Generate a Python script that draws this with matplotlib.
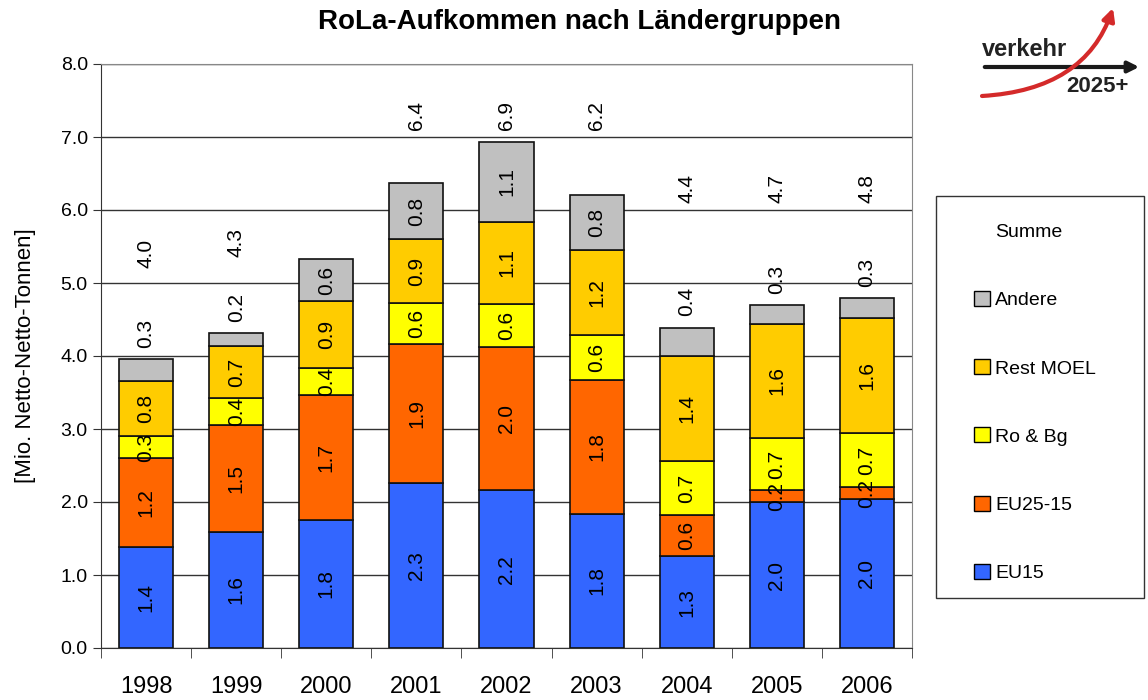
import matplotlib
matplotlib.use('Agg')
import matplotlib.pyplot as plt
import numpy as np
from matplotlib.patches import Patch, FancyArrowPatch, Rectangle
from matplotlib.path import Path
from matplotlib.lines import Line2D

years = ['1998', '1999', '2000', '2001', '2002', '2003', '2004', '2005', '2006']
eu15 = [1.38, 1.59, 1.76, 2.26, 2.16, 1.84, 1.26, 2.00, 2.04]
eu25_15 = [1.22, 1.47, 1.70, 1.90, 1.96, 1.83, 0.56, 0.16, 0.16]
ro_bg = [0.30, 0.36, 0.38, 0.57, 0.59, 0.62, 0.74, 0.72, 0.74]
rest_moel = [0.76, 0.72, 0.91, 0.87, 1.13, 1.16, 1.44, 1.56, 1.58]
andere = [0.30, 0.18, 0.58, 0.77, 1.09, 0.76, 0.39, 0.26, 0.27]

# hoehe der summen-beschriftung (wie im original von hand verschoben), 2000 ohne
summe_y = [5.41, 5.56, None, 7.30, 7.30, 7.30, 6.29, 6.29, 6.29]

names = ['EU15', 'EU25-15', 'Ro & Bg', 'Rest MOEL', 'Andere']
farben = ['#3366FF', '#FF6600', '#FFFF00', '#FFCC00', '#C0C0C0']

plt.rcParams['font.family'] = ['Liberation Sans', 'DejaVu Sans']

fig = plt.figure(figsize=(11.48, 7.0), dpi=100)
ax = fig.add_axes([101/1148, 52/700, 811/1148, 584/700])

x = np.arange(len(years))
serien = [eu15, eu25_15, ro_bg, rest_moel, andere]
unten = np.zeros(len(years))
for werte, name, farbe in zip(serien, names, farben):
    werte = np.array(werte)
    bars = ax.bar(x, werte, 0.6, bottom=unten, color=farbe, edgecolor='#111111',
                  linewidth=1.2, label=name, zorder=3)
    if name == 'Andere':
        innen = ['%.1f' % v if v >= 0.5 else '' for v in werte]
        ax.bar_label(bars, labels=innen, label_type='center', rotation=90,
                     fontsize=15, zorder=6)
        for i, v in enumerate(werte):
            if v < 0.5:
                ax.annotate('%.1f' % v, (x[i], unten[i] + v), xytext=(0, 8),
                            textcoords='offset points', ha='center', va='bottom',
                            rotation=90, fontsize=15, zorder=6)
    else:
        ax.bar_label(bars, labels=['%.1f' % v for v in werte], label_type='center',
                     rotation=90, fontsize=15, zorder=6)
    unten = unten + werte

for i, yy in enumerate(summe_y):
    if yy is None:
        continue
    ax.text(x[i], yy, '%.1f' % unten[i], rotation=90, ha='center', va='center',
            fontsize=15)

ax.set_xlim(-0.5, len(years) - 0.5)
ax.set_ylim(0, 8)
ax.set_yticks(np.arange(0, 8.1, 1.0))
ax.set_yticklabels(['%.1f' % v for v in np.arange(0, 8.1, 1.0)], fontsize=14)
ax.set_xticks(x)
ax.set_xticklabels(years, fontsize=17)
ax.tick_params(axis='x', length=0, pad=20)
ax.set_xticks(np.arange(-0.5, len(years), 1.0), minor=True)
ax.tick_params(axis='x', which='minor', length=7, direction='out', color='#333333')
ax.tick_params(axis='y', length=6, direction='out', color='#333333')
ax.grid(axis='y', color='#333333', linewidth=1.0, zorder=0)
for s in ['top', 'right']:
    ax.spines[s].set_color('#888888')
ax.spines['left'].set_color('#333333')
ax.spines['bottom'].set_color('#333333')
ax.set_ylabel('[Mio. Netto-Netto-Tonnen]', fontsize=16, labelpad=18)

fig.text(580/1148, 1 - 22/700, 'RoLa-Aufkommen nach Ländergruppen', ha='center',
         va='center', fontsize=20, fontweight='bold')

def fx(px):
    return px / 1148
def fy(py):
    return 1 - py / 700

# legende: rahmen extra, eintraege ohne rahmen
fig.patches.append(Rectangle((fx(936), fy(598)), fx(1144) - fx(936), fy(196) - fy(598),
                             transform=fig.transFigure, facecolor='white',
                             edgecolor='#333333', linewidth=1.0, zorder=0))
handles = [Line2D([], [], color='none')]
for name, farbe in zip(names[::-1], farben[::-1]):
    handles.append(Patch(facecolor=farbe, edgecolor='black', linewidth=1))
labels = ['Summe'] + names[::-1]
fig.legend(handles, labels, loc='upper left', bbox_to_anchor=(fx(974), fy(223)),
           frameon=False, fontsize=14, labelspacing=2.57, handlelength=0.8,
           handleheight=0.8, handletextpad=0.3, borderpad=0, borderaxespad=0)

# logo oben rechts
fig.patches.append(FancyArrowPatch((fx(982), fy(67)), (fx(1142), fy(67)),
                                   transform=fig.transFigure, arrowstyle='-|>',
                                   mutation_scale=16, color='#1a1a1a', lw=3))
fig.text(fx(982), fy(50), 'verkehr', fontsize=17, fontweight='bold', va='center',
         ha='left', color='#222222')
fig.text(fx(1066), fy(86), '2025+', fontsize=16, fontweight='bold', va='center',
         ha='left', color='#222222')
kurve = Path([(fx(982), fy(96)), (fx(1085), fy(90)), (fx(1113), fy(8))],
             [Path.MOVETO, Path.CURVE3, Path.CURVE3])
fig.patches.append(FancyArrowPatch(path=kurve, transform=fig.transFigure,
                                   arrowstyle='-|>', mutation_scale=18,
                                   color='#d42a2a', lw=3))

fig.savefig('out.png', dpi=100)
